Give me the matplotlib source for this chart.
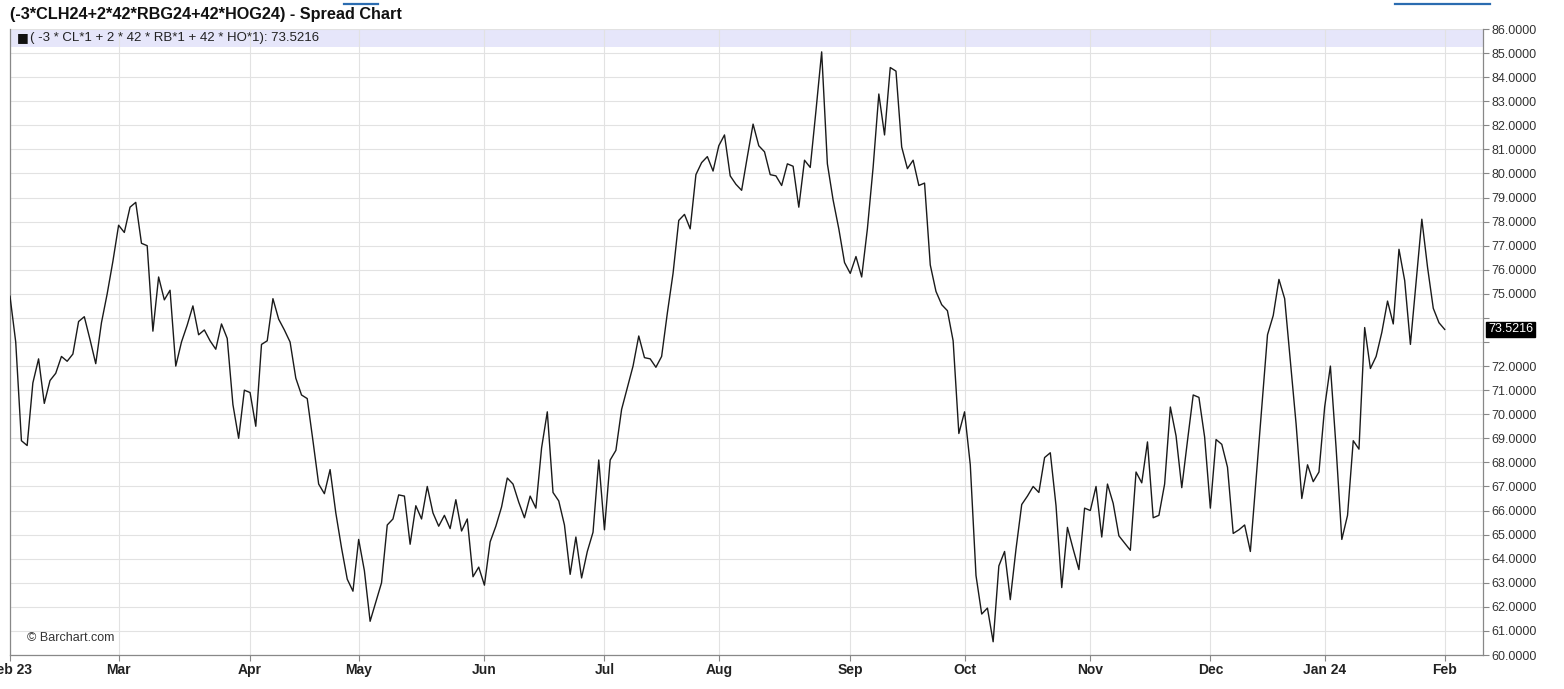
import numpy as np
import matplotlib.pyplot as plt
import matplotlib.transforms as mtransforms

# dzienne wartosci spreadu, miesiac po miesiacu (dni sesyjne)
feb23 = [74.9, 73.0, 68.9, 68.7, 71.3, 72.3, 70.45, 71.4, 71.7, 72.4,
         72.2, 72.5, 73.85, 74.05, 73.1, 72.1, 73.8, 75.0, 76.35]
mar23 = [77.85, 77.55, 78.6, 78.8, 77.1, 77.0, 73.45, 75.7, 74.75, 75.15,
         72.0, 73.0, 73.7, 74.5, 73.3, 73.5, 73.05, 72.7, 73.75, 73.15,
         70.4, 69.0, 71.0]
apr23 = [70.9, 69.5, 72.9, 73.05, 74.8, 73.95, 73.5, 73.0, 71.5, 70.8,
         70.65, 68.9, 67.1, 66.7, 67.7, 65.9, 64.45, 63.15, 62.65]
may23 = [64.8, 63.5, 61.4, 62.2, 63.0, 65.4, 65.65, 66.65, 66.6, 64.6,
         66.2, 65.65, 67.0, 65.9, 65.35, 65.8, 65.25, 66.45, 65.15, 65.65,
         63.25, 63.65]
jun23 = [62.9, 64.7, 65.35, 66.15, 67.35, 67.1, 66.35, 65.7, 66.6, 66.1,
         68.6, 70.1, 66.75, 66.4, 65.4, 63.35, 64.9, 63.2, 64.3, 65.1,
         68.1]
jul23 = [65.2, 68.1, 68.5, 70.2, 71.1, 72.0, 73.25, 72.35, 72.3, 71.95,
         72.4, 74.2, 75.85, 78.05, 78.3, 77.7, 79.95, 80.45, 80.7, 80.1]
aug23 = [81.15, 81.6, 79.9, 79.55, 79.3, 80.7, 82.05, 81.15, 80.9, 79.95,
         79.9, 79.5, 80.4, 80.3, 78.6, 80.55, 80.25, 82.6, 85.05, 80.4,
         78.9, 77.7, 76.3]
sep23 = [75.85, 76.55, 75.7, 77.7, 80.25, 83.3, 81.6, 84.4, 84.25, 81.1,
         80.2, 80.55, 79.5, 79.6, 76.2, 75.1, 74.55, 74.3, 73.05, 69.2]
oct23 = [70.1, 67.9, 63.3, 61.7, 61.95, 60.55, 63.7, 64.3, 62.3, 64.4,
         66.25, 66.6, 67.0, 66.75, 68.2, 68.4, 66.2, 62.8, 65.3, 64.4,
         63.55, 66.1]
nov23 = [66.0, 67.0, 64.9, 67.1, 66.3, 64.95, 64.65, 64.35, 67.6, 67.15,
         68.85, 65.7, 65.8, 67.1, 70.3, 69.1, 66.95, 68.9, 70.8, 70.7,
         69.05]
dec23 = [66.1, 68.95, 68.75, 67.8, 65.05, 65.2, 65.4, 64.3, 67.3, 70.3,
         73.3, 74.1, 75.6, 74.8, 72.2, 69.6, 66.5, 67.9, 67.2, 67.6]
jan24 = [70.3, 72.0, 68.6, 64.8, 65.8, 68.9, 68.55, 73.6, 71.9, 72.4,
         73.4, 74.7, 73.75, 76.85, 75.55, 72.9, 75.5, 78.1, 76.1, 74.4,
         73.8]
feb24 = [73.5216]

months = ["Feb 23", "Mar", "Apr", "May", "Jun", "Jul", "Aug", "Sep", "Oct",
          "Nov", "Dec", "Jan 24", "Feb"]
monthly = [feb23, mar23, apr23, may23, jun23, jul23, aug23, sep23, oct23,
           nov23, dec23, jan24, feb24]

values = np.concatenate(monthly)
x = np.arange(len(values))
month_start = np.cumsum([0] + [len(m) for m in monthly[:-1]])
last = values[-1]

plt.rcParams['font.family'] = ['Liberation Sans', 'DejaVu Sans']
W, H = 1564, 689
fig = plt.figure(figsize=(W / 100, H / 100), dpi=100)
ax = fig.add_axes([10 / W, 1 - 655 / H, (1483 - 10) / W, (655 - 29) / H])

ax.plot(x, values, color='#1a1a1a', lw=1.0, zorder=3)
ax.set_xlim(0, 257.7)
ax.set_ylim(60, 86)

# pasek legendy u gory
ax.axhspan(85.27, 86, color='#e6e6fa', zorder=0.2, lw=0)
ax.text(1.2, 85.63, "\u25a0", fontsize=9, color='#111111', va='center',
        family=['DejaVu Sans'])
ax.text(3.5, 85.63, "( -3 * CL*1 + 2 * 42 * RB*1 + 42 * HO*1): 73.5216",
        fontsize=9.5, color='#222222', va='center')

ax.grid(color='#e2e2e2', lw=0.8)
ax.set_axisbelow(True)

yt = np.arange(60, 87)
ax.set_yticks(yt)
ax.set_yticklabels(["" if v in (73, 74) else "%.4f" % v for v in yt])
ax.yaxis.tick_right()
ax.tick_params(axis='y', direction='out', length=4.5, width=0.8, colors='#888888',
               labelcolor='#333333', labelsize=9, pad=1.5)

ax.set_xticks(month_start)
ax.set_xticklabels(months, fontweight='bold')
ax.tick_params(axis='x', direction='out', length=4, width=0.8, colors='#888888',
               labelcolor='#222222', labelsize=10, pad=2)

for s in ['left', 'right', 'bottom']:
    ax.spines[s].set_color('#888888')
    ax.spines[s].set_linewidth(0.9)
ax.spines['top'].set_visible(False)

# etykieta ostatniej wartosci
trans = mtransforms.blended_transform_factory(ax.transAxes, ax.transData)
ax.text(1.0035, last, "%.4f" % last, transform=trans, ha='left', va='center',
        fontsize=9, color='white',
        bbox=dict(boxstyle='square,pad=0.15', fc='black', ec='black'))

ax.text(3, 60.7, "\u00a9 Barchart.com", fontsize=9, color='#333333', va='center')

fig.text(10 / W, 1 - 14 / H, "(-3*CLH24+2*42*RBG24+42*HOG24) - Spread Chart",
         fontsize=11.7, fontweight='bold', color='#111111', va='center')

# niebieskie paski interfejsu u gory
fig.add_artist(plt.Line2D([344 / W, 378 / W], [1 - 4 / H] * 2, color='#2b6cb0', lw=1.6))
fig.add_artist(plt.Line2D([1395 / W, 1490 / W], [1 - 4 / H] * 2, color='#2b6cb0', lw=1.6))

fig.savefig("out.png", dpi=100)
